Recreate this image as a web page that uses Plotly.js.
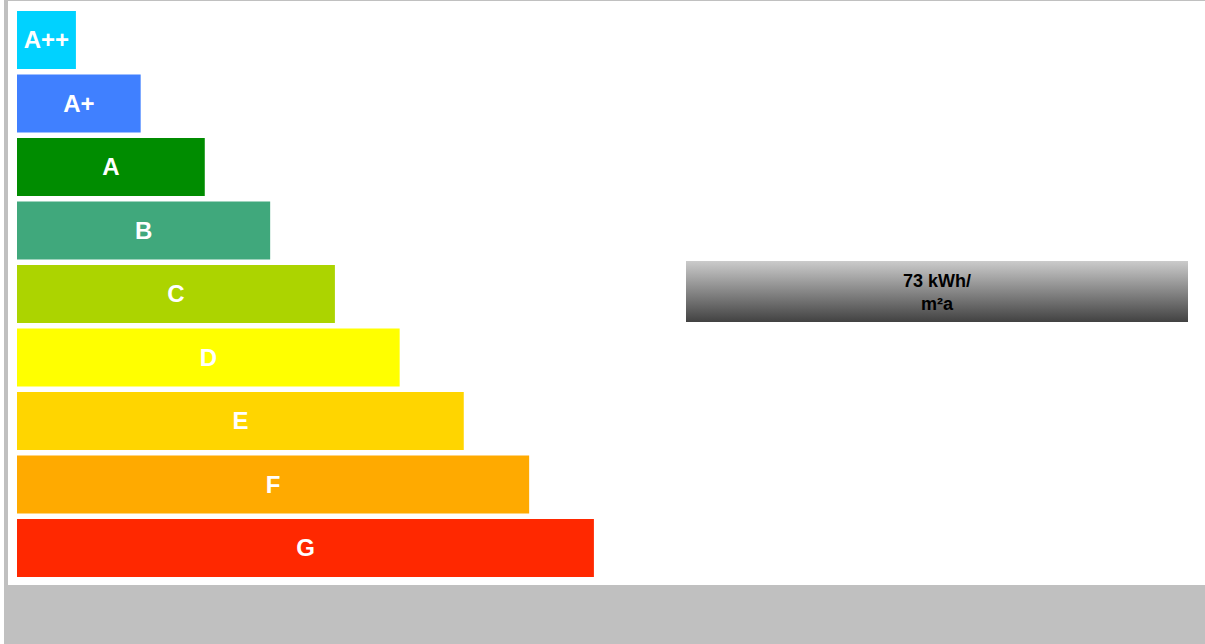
<!DOCTYPE html>
<html>
<head>
<meta charset="utf-8">
<script src="https://cdn.plot.ly/plotly-3.0.1.min.js"></script>
<style>
  html, body { margin: 0; padding: 0; background: #ffffff; }
  #chart { position: absolute; left: 4px; top: 0; width: 1201px; height: 644px; }
</style>
</head>
<body>
<div id="chart"></div>
<script>
// Energy efficiency classes, best to worst; each bar is one step longer than the previous
const classes = ["A++", "A+", "A", "B", "C", "D", "E", "F", "G"];
const barLengths = [0.91, 1.91, 2.9, 3.91, 4.91, 5.91, 6.9, 7.91, 8.91];
const classColors = ["#00D2FF", "#4080FF", "#008C00", "#40A87C", "#ACD400", "#FFFF00", "#FFD500", "#FFAA00", "#FF2800"];

// Annual final energy demand of the building
const consumption = 73;
const unitLine1 = "kWh/";
const unitLine2 = "m²a";

const barTrace = {
  type: "bar",
  orientation: "h",
  y: classes,
  x: barLengths,
  text: classes,
  textposition: "inside",
  insidetextanchor: "middle",
  constraintext: "none",
  textfont: { family: "Arial, 'Liberation Sans', sans-serif", size: 24, color: "#ffffff", weight: "bold" },
  marker: { color: classColors, line: { width: 0 } },
  hoverinfo: "skip",
  showlegend: false
};

// vertical grey gradient used behind the consumption label
const gradientSvg =
  '<svg xmlns="http://www.w3.org/2000/svg" width="100" height="100" preserveAspectRatio="none">' +
  '<defs><linearGradient id="g" x1="0" y1="0" x2="0" y2="1">' +
  '<stop offset="0" stop-color="#cbcbcb"/><stop offset="1" stop-color="#424242"/>' +
  '</linearGradient></defs><rect width="100" height="100" fill="url(#g)"/></svg>';

const layout = {
  width: 1201,
  height: 644,
  margin: { l: 4, r: 0, t: 1, b: 59, pad: 0 },
  paper_bgcolor: "#c0c0c0",
  plot_bgcolor: "#ffffff",
  bargap: 0.087,
  xaxis: { range: [-0.139, 18.348], showgrid: false, zeroline: false, showticklabels: false, showline: false, fixedrange: true },
  yaxis: {
    type: "category",
    categoryorder: "array",
    categoryarray: classes,
    range: [8.583, -0.614],
    showgrid: false, zeroline: false, showticklabels: false, showline: false, fixedrange: true
  },
  images: [{
    source: "data:image/svg+xml;charset=utf-8," + encodeURIComponent(gradientSvg),
    xref: "paper", yref: "paper",
    x: 0.5664, y: 0.5548,
    sizex: 0.4194, sizey: 0.1045,
    sizing: "stretch",
    xanchor: "left", yanchor: "top",
    layer: "above"
  }],
  annotations: [{
    xref: "paper", yref: "paper",
    x: 0.7761, y: 0.5009,
    xanchor: "center", yanchor: "middle",
    showarrow: false,
    align: "center",
    text: "<b>" + consumption + " " + unitLine1 + "<br>" + unitLine2 + "</b>",
    font: { family: "Arial, 'Liberation Sans', sans-serif", size: 18, color: "#000000" }
  }],
  hovermode: false,
  showlegend: false
};

Plotly.newPlot("chart", [barTrace], layout, { displayModeBar: false, staticPlot: true });
</script>
</body>
</html>
